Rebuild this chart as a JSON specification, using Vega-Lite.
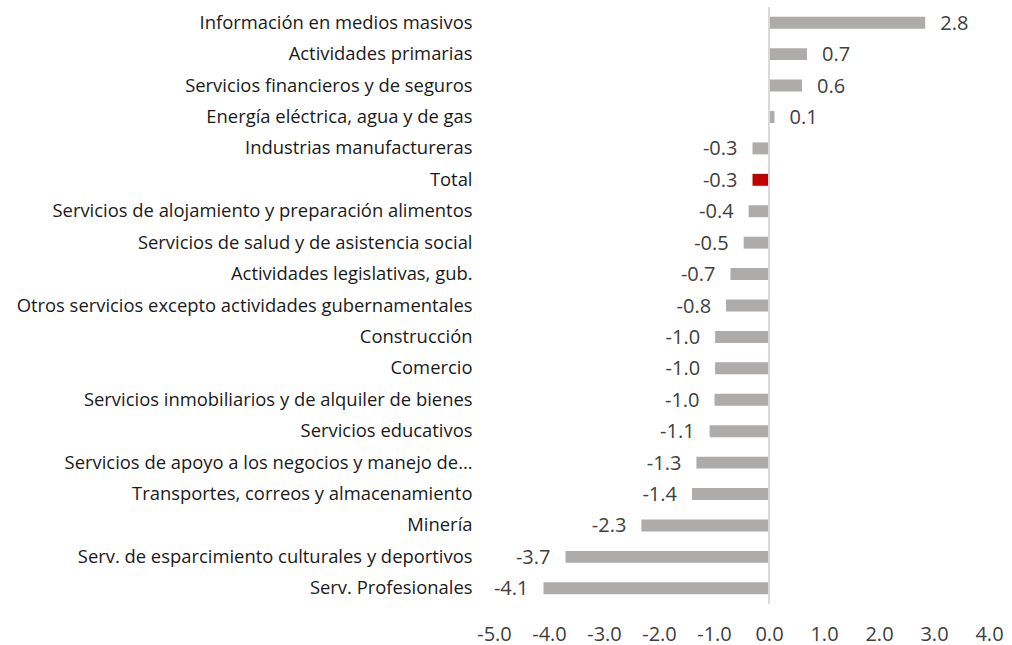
{
  "$schema": "https://vega.github.io/schema/vega-lite/v6.json",
  "autosize": "none",
  "width": 495,
  "height": 597,
  "padding": {"left": 494, "top": 7, "right": 23, "bottom": 41},
  "background": "white",
  "config": {
    "view": {"stroke": null},
    "font": "Open Sans",
    "locale": {"number": {"decimal": ".", "thousands": ",", "grouping": [3], "currency": ["$", ""], "minus": "-"}}
  },
  "data": {"values": [
    {"category": "Información en medios masivos", "value": 2.84},
    {"category": "Actividades primarias ", "value": 0.69},
    {"category": "Servicios financieros y de seguros", "value": 0.6},
    {"category": "Energía eléctrica, agua y de gas", "value": 0.1},
    {"category": "Industrias manufactureras", "value": -0.3},
    {"category": "Total", "value": -0.3},
    {"category": "Servicios de alojamiento y preparación alimentos", "value": -0.37},
    {"category": "Servicios de salud y de asistencia social", "value": -0.46},
    {"category": "Actividades legislativas, gub.", "value": -0.7},
    {"category": "Otros servicios excepto actividades gubernamentales", "value": -0.78},
    {"category": "Construcción", "value": -0.98},
    {"category": "Comercio", "value": -0.98},
    {"category": "Servicios inmobiliarios y de alquiler de bienes", "value": -0.99},
    {"category": "Servicios educativos", "value": -1.08},
    {"category": "Servicios de apoyo a los negocios y manejo de…", "value": -1.32},
    {"category": "Transportes, correos y almacenamiento", "value": -1.4},
    {"category": "Minería", "value": -2.32},
    {"category": "Serv. de esparcimiento culturales y deportivos", "value": -3.7},
    {"category": "Serv. Profesionales", "value": -4.1}
  ]},
  "encoding": {
    "y": {
      "field": "category", "type": "nominal", "sort": null,
      "scale": {"paddingInner": 0.62, "paddingOuter": 0.31},
      "axis": {"title": null, "ticks": false, "domain": false, "labelPadding": 22,
               "labelFontSize": 18.4, "labelColor": "#1a1a1a", "labelLimit": 600, "labelFont": "Open Sans"}
    }
  },
  "layer": [
    {
      "mark": {"type": "bar"},
      "encoding": {
        "x": {"field": "value", "type": "quantitative",
              "scale": {"domain": [-5, 4], "nice": false},
              "axis": {"title": null, "ticks": false, "domain": false, "grid": false, "labelFlush": false, "labelOverlap": false,
                       "values": [-5, -4, -3, -2, -1, 0, 1, 2, 3, 4], "format": ".1f",
                       "labelPadding": 20, "labelFontSize": 20, "labelColor": "#404040", "labelFont": "Open Sans"}},
        "color": {"condition": {"test": "datum.category === 'Total'", "value": "#C00000"}, "value": "#AEABAB"}
      }
    },
    {
      "mark": {"type": "rule", "color": "#D9D9D9", "strokeWidth": 1.5},
      "encoding": {"x": {"datum": 0, "type": "quantitative"}, "y": {"value": 0}, "y2": {"value": 597}}
    },
    {
      "transform": [{"filter": "datum.value >= 0"}],
      "mark": {"type": "text", "align": "left", "baseline": "middle", "dx": 15, "dy": 1, "fontSize": 20, "color": "#404040", "font": "Open Sans"},
      "encoding": {"x": {"field": "value", "type": "quantitative"}, "text": {"field": "value", "type": "quantitative", "format": ".1f"}}
    },
    {
      "transform": [{"filter": "datum.value < 0"}],
      "mark": {"type": "text", "align": "right", "baseline": "middle", "dx": -15, "dy": 1, "fontSize": 20, "color": "#404040", "font": "Open Sans"},
      "encoding": {"x": {"field": "value", "type": "quantitative"}, "text": {"field": "value", "type": "quantitative", "format": ".1f"}}
    }
  ]
}
